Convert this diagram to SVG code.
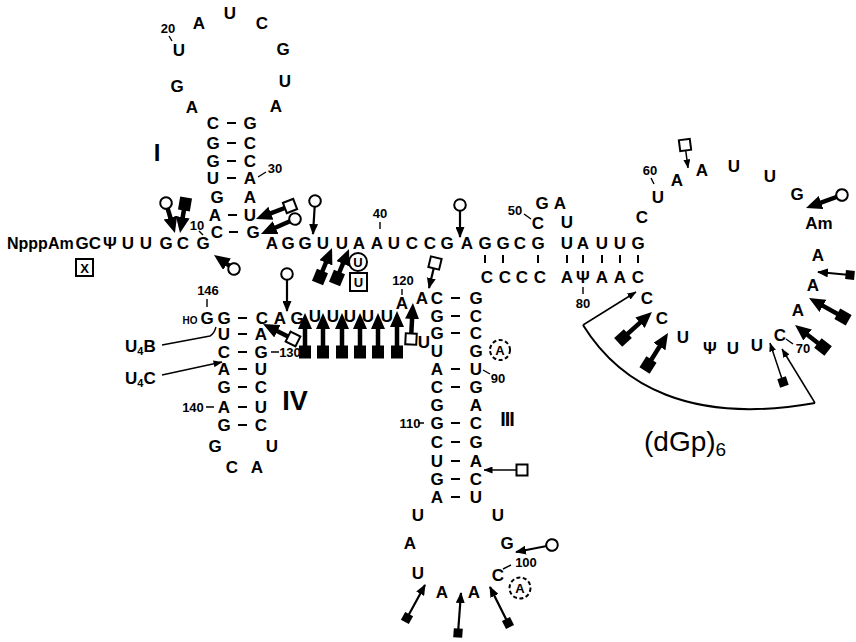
<svg xmlns="http://www.w3.org/2000/svg" width="856" height="642" viewBox="0 0 856 642">
<style>
.n{font-family:"Liberation Sans",Arial,sans-serif;font-weight:bold;font-size:17px;text-anchor:middle;fill:#000}
.s{font-family:"Liberation Sans",Arial,sans-serif;font-weight:bold;font-size:13px;text-anchor:middle;fill:#000}
.k{stroke:#000;stroke-width:2;fill:none}
.kt{stroke:#000;stroke-width:1.4;fill:none}
.aT{stroke:#000;stroke-width:4.5;fill:none;marker-end:url(#hT)}
.aM{stroke:#000;stroke-width:2.2;fill:none;marker-end:url(#hM)}
.aS{stroke:#000;stroke-width:1.5;fill:none;marker-end:url(#hS)}
.bc{marker-start:url(#cO)}
.bo{marker-start:url(#sqO)}
.bf{marker-start:url(#sqF)}
.bs{marker-start:url(#sqFs)}
</style>
<defs>
<marker id="hT" markerUnits="userSpaceOnUse" orient="auto" viewBox="0 0 16 14" markerWidth="16" markerHeight="14" refX="6" refY="7"><path d="M0,0 L16,7 L0,14 z" fill="#000"/></marker>
<marker id="hM" markerUnits="userSpaceOnUse" orient="auto" viewBox="0 0 11 9" markerWidth="11" markerHeight="9" refX="10" refY="4.5"><path d="M0,0 L11,4.5 L0,9 z" fill="#000"/></marker>
<marker id="hS" markerUnits="userSpaceOnUse" orient="auto" viewBox="0 0 9 7" markerWidth="9" markerHeight="7" refX="8.5" refY="3.5"><path d="M0,0 L9,3.5 L0,7 z" fill="#000"/></marker>
<marker id="cO" markerUnits="userSpaceOnUse" orient="auto" viewBox="-8 -8 16 16" markerWidth="16" markerHeight="16" refX="0" refY="0"><circle r="5.8" fill="#fff" stroke="#000" stroke-width="2"/></marker>
<marker id="sqO" markerUnits="userSpaceOnUse" orient="auto" viewBox="-8 -8 16 16" markerWidth="16" markerHeight="16" refX="0" refY="0"><rect x="-5.5" y="-5.5" width="11" height="11" fill="#fff" stroke="#000" stroke-width="2"/></marker>
<marker id="sqF" markerUnits="userSpaceOnUse" orient="auto" viewBox="-8 -8 16 16" markerWidth="16" markerHeight="16" refX="0" refY="0"><rect x="-6.5" y="-6" width="13" height="12" fill="#000"/></marker>
<marker id="sqFs" markerUnits="userSpaceOnUse" orient="auto" viewBox="-6 -6 12 12" markerWidth="12" markerHeight="12" refX="0" refY="0"><rect x="-4.5" y="-4.5" width="9" height="9" fill="#000"/></marker>
</defs>
<rect width="856" height="642" fill="#fff"/>

<g id="strand5">
<text x="7" y="249" class="n" style="text-anchor:start;font-size:16px">NpppAm</text>
<text x="82" y="249" class="n">G</text><text x="95" y="249" class="n">C</text><text x="110" y="249" class="n">Ψ</text><text x="128" y="249" class="n">U</text><text x="146" y="249" class="n">U</text><text x="166" y="249" class="n">G</text><text x="183" y="249" class="n">C</text><text x="203" y="249" class="n">G</text>
<rect x="76" y="259" width="17" height="17" class="k"/><text x="84.5" y="272.5" class="s">X</text>
<text x="197" y="230" class="s">10</text>
</g>

<g id="stemI">
<text x="157" y="161" class="n" style="font-size:24px">I</text>
<text x="213" y="129" class="n">C</text><text x="250" y="129" class="n">G</text>
<text x="213" y="149" class="n">G</text><text x="250" y="149" class="n">C</text>
<text x="213" y="167" class="n">G</text><text x="250" y="167" class="n">C</text>
<text x="213" y="184" class="n">U</text><text x="250" y="184" class="n">A</text>
<text x="217" y="203" class="n">G</text><text x="250" y="203" class="n">A</text>
<text x="215" y="221" class="n">A</text><text x="250" y="221" class="n">U</text>
<text x="217" y="238" class="n">C</text><text x="253" y="238" class="n">G</text>
<text x="275" y="173" class="s">30</text>
</g>

<g id="loopI">
<text x="168" y="33" class="s">20</text>
<text x="179" y="56" class="n">U</text><text x="199" y="29" class="n">A</text><text x="230" y="19" class="n">U</text><text x="262" y="29" class="n">C</text><text x="283" y="55" class="n">G</text><text x="285" y="87" class="n">U</text><text x="276" y="112" class="n">A</text><text x="177" y="92" class="n">G</text><text x="192" y="113" class="n">A</text>
</g>

<g id="strandTop">
<text x="272" y="249" class="n">A</text><text x="288" y="249" class="n">G</text><text x="305" y="249" class="n">G</text><text x="323" y="249" class="n">U</text><text x="342" y="249" class="n">U</text><text x="359" y="249" class="n">A</text><text x="377" y="249" class="n">A</text><text x="394" y="249" class="n">U</text><text x="412" y="249" class="n">C</text><text x="430" y="249" class="n">C</text><text x="447" y="249" class="n">G</text><text x="467" y="249" class="n">A</text><text x="485" y="249" class="n">G</text><text x="503" y="249" class="n">G</text><text x="520" y="249" class="n">C</text><text x="538" y="249" class="n">G</text><text x="567" y="249" class="n">U</text><text x="583" y="249" class="n">A</text><text x="602" y="249" class="n">U</text><text x="620" y="249" class="n">U</text><text x="638" y="249" class="n">G</text>
<text x="380" y="218" class="s">40</text>
<text x="515" y="215" class="s">50</text>
<text x="538" y="229" class="n">C</text><text x="542" y="209" class="n">G</text><text x="560" y="209" class="n">A</text><text x="567" y="228" class="n">U</text>
<circle cx="358" cy="262" r="9" class="k"/><text x="358" y="267" class="s">U</text>
<rect x="350" y="273" width="17" height="18" class="k"/><text x="358.5" y="287" class="s">U</text>
</g>

<g id="strandBottom">
<text x="487" y="283" class="n">C</text><text x="505" y="283" class="n">C</text><text x="522" y="283" class="n">C</text><text x="540" y="283" class="n">C</text><text x="567" y="283" class="n">A</text><text x="583" y="283" class="n">Ψ</text><text x="602" y="283" class="n">A</text><text x="620" y="283" class="n">A</text><text x="638" y="283" class="n">C</text>
<text x="583" y="308" class="s">80</text>
</g>

<g id="loopII">
<text x="642" y="223" class="n">C</text>
<text x="650" y="175" class="s">60</text>
<text x="658" y="203" class="n">U</text><text x="677" y="186" class="n">A</text><text x="702" y="176" class="n">A</text><text x="734" y="172" class="n">U</text><text x="770" y="182" class="n">U</text><text x="797" y="200" class="n">G</text><text x="819" y="229" class="n">Am</text><text x="818" y="261" class="n">A</text><text x="813" y="291" class="n">A</text><text x="798" y="316" class="n">A</text><text x="780" y="341" class="n">C</text><text x="757" y="351" class="n">U</text><text x="733" y="354" class="n">U</text><text x="710" y="354" class="n">Ψ</text><text x="683" y="343" class="n">U</text><text x="662" y="324" class="n">C</text><text x="647" y="304" class="n">C</text>
<text x="803" y="353" class="s">70</text>
</g>

<g id="stemIII">
<text x="437" y="304" class="n">C</text><text x="476" y="304" class="n">G</text>
<text x="437" y="322" class="n">G</text><text x="476" y="322" class="n">C</text>
<text x="437" y="339" class="n">G</text><text x="476" y="339" class="n">C</text>
<text x="437" y="357" class="n">U</text><text x="476" y="357" class="n">G</text>
<text x="437" y="375" class="n">A</text><text x="476" y="375" class="n">U</text>
<text x="437" y="393" class="n">C</text><text x="476" y="393" class="n">G</text>
<text x="437" y="411" class="n">G</text><text x="476" y="411" class="n">A</text>
<text x="437" y="429" class="n">G</text><text x="476" y="429" class="n">C</text>
<text x="437" y="448" class="n">C</text><text x="476" y="448" class="n">G</text>
<text x="437" y="467" class="n">U</text><text x="476" y="467" class="n">A</text>
<text x="437" y="485" class="n">G</text><text x="476" y="485" class="n">C</text>
<text x="437" y="503" class="n">A</text><text x="476" y="503" class="n">U</text>
<circle cx="500" cy="350" r="10" class="k" stroke-dasharray="4 2.5"/><text x="500" y="355" class="s">A</text>
<text x="498" y="383" class="s">90</text>
<text x="410" y="428" class="s">110</text>
<text x="507" y="426" class="n" style="font-size:20px;letter-spacing:-1px">III</text>
</g>

<g id="loopIII">
<text x="418" y="521" class="n">U</text><text x="498" y="521" class="n">U</text><text x="410" y="549" class="n">A</text><text x="507" y="549" class="n">G</text><text x="418" y="579" class="n">U</text><text x="498" y="581" class="n">C</text><text x="442" y="598" class="n">A</text><text x="474" y="598" class="n">A</text>
<circle cx="520" cy="588" r="10.5" class="k" stroke-dasharray="4 2.5"/><text x="520" y="593" class="s">A</text>
<text x="526" y="567" class="s">100</text>
</g>

<g id="junction">
<text x="262" y="324" class="n">C</text><text x="280" y="324" class="n">A</text><text x="297" y="324" class="n">G</text><text x="315" y="322" class="n">U</text><text x="333" y="322" class="n">U</text><text x="350" y="322" class="n">U</text><text x="368" y="322" class="n">U</text><text x="387" y="322" class="n">U</text><text x="402" y="309" class="n">A</text><text x="422" y="304" class="n">A</text>
<text x="403" y="285" class="s">120</text>
<text x="424" y="348" class="n">U</text>
</g>

<g id="stemIV">
<text x="190" y="324" class="s" style="font-size:10px">HO</text>
<text x="207" y="324" class="n">G</text>
<text x="208" y="295" class="s">146</text>
<text x="224" y="324" class="n">G</text>
<text x="224" y="340" class="n">U</text><text x="261" y="340" class="n">A</text>
<text x="224" y="358" class="n">C</text><text x="261" y="358" class="n">G</text>
<text x="224" y="375" class="n">A</text><text x="261" y="375" class="n">U</text>
<text x="224" y="393" class="n">G</text><text x="261" y="393" class="n">C</text>
<text x="224" y="413" class="n">A</text><text x="261" y="413" class="n">U</text>
<text x="224" y="431" class="n">G</text><text x="261" y="431" class="n">C</text>
<text x="215" y="452" class="n">G</text><text x="272" y="452" class="n">U</text><text x="232" y="473" class="n">C</text><text x="257" y="473" class="n">A</text>
<text x="290" y="357" class="s">130</text>
<text x="193" y="412" class="s">140</text>
<text x="295" y="410" class="n" style="font-size:27px">IV</text>
<text x="125" y="352" class="n" style="text-anchor:start">U<tspan font-size="11" dy="3">4</tspan><tspan dy="-3">B</tspan></text>
<text x="125" y="384" class="n" style="text-anchor:start">U<tspan font-size="11" dy="3">4</tspan><tspan dy="-3">C</tspan></text>
</g>

<g id="dGp">
<text x="644" y="451" class="n" style="text-anchor:start;font-size:28px;font-weight:normal">(dGp)<tspan font-size="19" dy="5">6</tspan></text>
</g>

<g id="connectors">
<g class="k">
<path d="M227,123h9M227,143h9M227,161h9M227,178h9M228,215h9M229,232h9"/>
<path d="M451,298h9M451,316h9M451,333h9M451,369h9M451,387h9M451,423h9M451,442h9M451,461h9M451,479h9M451,497h9"/>
<path d="M238,318h9M238,334h9M238,352h9M238,369h9M238,387h9M238,407h9M238,425h9"/>
<path d="M485,255v8M503,255v8M538,255v8M567,255v8M583,255v8M602,255v8M620,255v8M638,255v8"/>
</g>
<g class="kt">
<path d="M169,36l3,5M199,231l4,4M258,177l8,-5M380,222v7M524,214l7,5M651,178l3,6M786,339l7,5M583,287v7M483,370l7,4M503,569l8,-4M418,423h6M402,289v6M271,352h8M206,407h8M207,299v8"/>
</g>
<path d="M162,345 L210,336 Q214,334 216,327" class="kt" stroke-width="1.6"/>
<path d="M162,375 L222,362" class="aS"/>
<path d="M166,203 L172.1,223.4" class="aT bc"/>
<path d="M185,204 L181.7,223.1" class="aT bf"/>
<path d="M234,269 L222.2,260.7" class="aT bc"/>
<path d="M290,206 L265.3,215.4" class="aT bo"/>
<path d="M295,219 L270.1,230" class="aT bc"/>
<path d="M320,277 L328.2,257.2" class="aT bf"/>
<path d="M337,278 L345.2,258.2" class="aT bf"/>
<path d="M293,339 L272,328.5" class="aT bo"/>
<path d="M305,352 V323" class="aT bf"/>
<path d="M323,352 V323" class="aT bf"/>
<path d="M342,352 V323" class="aT bf"/>
<path d="M360,352 V323" class="aT bf"/>
<path d="M378,352 V323" class="aT bf"/>
<path d="M397,352 V321" class="aT bf"/>
<path d="M411,339 L412.4,313" class="aT bo"/>
<path d="M842,195 L815.4,204.6" class="aT bc"/>
<path d="M843,317 L817.7,302.9" class="aT bf"/>
<path d="M823,347 L802.9,331.2" class="aT bf"/>
<path d="M623,338 L644.5,318.7" class="aT bf"/>
<path d="M648,365 L662.7,341.5" class="aT bf"/>
<path d="M315,201 L313,234" class="aM bc"/>
<path d="M460,205 L460,237" class="aM bc"/>
<path d="M287,274 L287,311" class="aM bc"/>
<path d="M435,263 L429,288" class="aM bo"/>
<path d="M552,545 L516,552" class="aM bc"/>
<path d="M850,275 L818,272" class="aM bs"/>
<path d="M407,618 L425,585" class="aM bs"/>
<path d="M458,633 L461,593" class="aM bs"/>
<path d="M508,623 L490,587" class="aM bs"/>
<path d="M685,145 L688,168" class="aS bo"/>
<path d="M783,382 L770,343" class="aS bs"/>
<path d="M522,470 L484,470" class="aS bo"/>
<path d="M583,325 C620,385 690,425 815,403" class="k" stroke-width="1.8"/>
<path d="M583,325 L636,292" class="aS"/>
<path d="M815,403 L782,349" class="aS"/>
</g>
</svg>
